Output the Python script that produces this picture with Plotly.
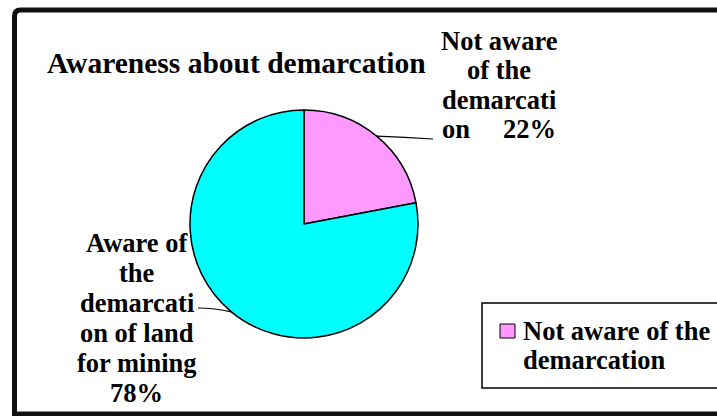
import math
import plotly.graph_objects as go

# ---------------- data ----------------
labels = ["Not aware of the demarcation", "Aware of the demarcation of land for mining"]
values = [22, 78]
colors = ["#FF99FF", "#00FFFF"]
title_text = "Awareness about demarcation"
right_label_lines = ["Not aware", "of the", "demarcati"]
right_label_last = "on"
left_label_lines = ["Aware of", "the", "demarcati", "on of land", "for mining"]
legend_lines = ["Not aware of the", "demarcation"]

# ---------------- geometry helpers ----------------
W, H = 717, 416


def fx(x):
    return x / W


def fy(y):
    return 1 - y / H


cx, cy, R = 304, 224, 114
FONT = "Liberation Serif"

fig = go.Figure(
    go.Pie(
        labels=labels,
        values=values,
        sort=False,
        direction="clockwise",
        rotation=0,
        marker=dict(colors=colors, line=dict(color="black", width=1.5)),
        textinfo="none",
        hoverinfo="label+percent",
        showlegend=False,
        domain=dict(x=[fx(cx - R), fx(cx + R)], y=[fy(cy + R), fy(cy - R)]),
    )
)

total = sum(values)
pcts = [f"{round(v / total * 100)}%" for v in values]

# slice mid-angle points on the rim (for leader lines)
mids = []
cum = 0
for v in values:
    a = (cum + v / 2) / total * 2 * math.pi
    mids.append((cx + R * math.sin(a), cy - R * math.cos(a)))
    cum += v


def txt(text, x, y, anchor="center", size=26.5):
    return dict(
        text=text, x=fx(x), y=fy(y), xref="paper", yref="paper",
        xanchor=anchor, yanchor="middle", showarrow=False,
        font=dict(family=FONT, size=size, color="black", weight="bold"),
    )


ann = []
# title
ann.append(txt(title_text, 45, 63, anchor="left", size=29.5))
# right label (slice 0)
for i, line in enumerate(right_label_lines):
    ann.append(txt(line, 499, 41 + 29.3 * i))
ann.append(txt(right_label_last, 440, 41 + 29.3 * 3, anchor="left"))
ann.append(txt(pcts[0], 558, 41 + 29.3 * 3, anchor="right"))
# left label (slice 1)
left_all = left_label_lines + [pcts[1]]
for i, line in enumerate(left_all):
    ann.append(txt(line, 136.5, 243 + 30 * i))
# legend text
for i, line in enumerate(legend_lines):
    ann.append(txt(line, 521, 331 + 29 * i, anchor="left"))

border_path = (
    f"M {fx(14.5)},{fy(414)} L {fx(14.5)},{fy(16)} Q {fx(14.5)},{fy(10)} {fx(20.5)},{fy(10)} "
    f"L {fx(760)},{fy(10)}"
)

shapes = [
    # outer chart border (left, top, bottom)
    dict(type="path", xref="paper", yref="paper", path=border_path,
         line=dict(color="#111111", width=5), layer="below"),
    dict(type="line", xref="paper", yref="paper", x0=fx(12), x1=fx(760), y0=fy(414), y1=fy(414),
         line=dict(color="#111111", width=5), layer="below"),
    # legend box
    dict(type="rect", xref="paper", yref="paper", x0=fx(482), x1=fx(760), y0=fy(388), y1=fy(303),
         line=dict(color="black", width=1.5), fillcolor="white"),
    # legend swatch
    dict(type="rect", xref="paper", yref="paper", x0=fx(500), x1=fx(515), y0=fy(338), y1=fy(324),
         line=dict(color="black", width=1), fillcolor=colors[0]),
    # leader lines
    dict(type="path", xref="paper", yref="paper",
         path=f"M {fx(mids[0][0])},{fy(mids[0][1])} Q {fx(405)},{fy(137)} {fx(433)},{fy(139)}",
         line=dict(color="black", width=1.2)),
    dict(type="path", xref="paper", yref="paper",
         path=f"M {fx(mids[1][0])},{fy(mids[1][1])} Q {fx(215)},{fy(308)} {fx(198)},{fy(308)}",
         line=dict(color="black", width=1.2)),
]

fig.update_layout(
    width=W, height=H,
    margin=dict(l=0, r=0, t=0, b=0),
    paper_bgcolor="white", plot_bgcolor="white",
    annotations=ann, shapes=shapes,
    showlegend=False,
)

fig.write_html(
    "out.html",
    config={"displayModeBar": False},
    post_script="document.body.style.margin='0';",
)
